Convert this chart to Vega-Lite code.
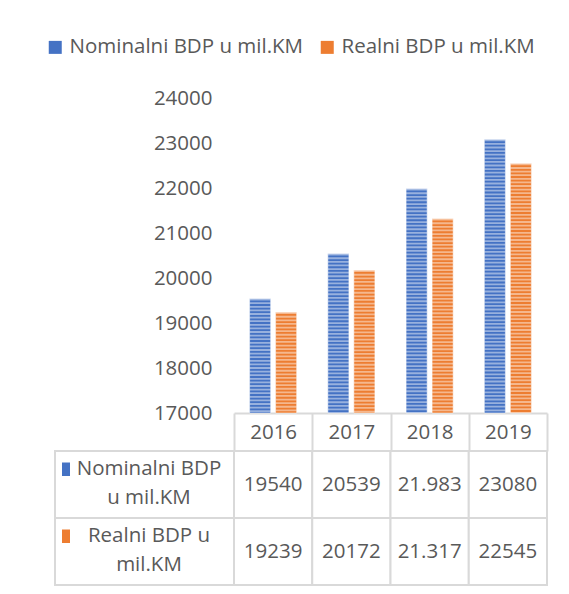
{
  "$schema": "https://vega.github.io/schema/vega-lite/v6.json",
  "padding": {"left": 45, "top": 37, "right": 20, "bottom": 9},
  "background": "white",
  "datasets": {
    "gdp": [
      {"year": "2016", "series": "Nominalni BDP u mil.KM", "value": 19540, "label": "19540"},
      {"year": "2017", "series": "Nominalni BDP u mil.KM", "value": 20539, "label": "20539"},
      {"year": "2018", "series": "Nominalni BDP u mil.KM", "value": 21983, "label": "21.983"},
      {"year": "2019", "series": "Nominalni BDP u mil.KM", "value": 23080, "label": "23080"},
      {"year": "2016", "series": "Realni BDP u mil.KM", "value": 19239, "label": "19239"},
      {"year": "2017", "series": "Realni BDP u mil.KM", "value": 20172, "label": "20172"},
      {"year": "2018", "series": "Realni BDP u mil.KM", "value": 21317, "label": "21.317"},
      {"year": "2019", "series": "Realni BDP u mil.KM", "value": 22545, "label": "22545"}
    ]
  },
  "config": {
    "font": "Open Sans",
    "view": {"stroke": null},
    "axis": {"labelFont": "Open Sans", "labelColor": "#595959", "labelFontSize": 20.5},
    "legend": {"labelFont": "Open Sans", "labelColor": "#595959", "labelFontSize": 20.5}
  },
  "columns": 2,
  "spacing": {"row": 38, "column": 0},
  "bounds": "flush",
  "concat": [
    {
      "width": 179,
      "height": 315,
      "data": {"values": []},
      "mark": "point"
    },
    {
      "width": 313,
      "height": 315,
      "data": {"name": "gdp"},
      "encoding": {
        "x": {
          "field": "year",
          "type": "nominal",
          "scale": {"paddingInner": 0, "paddingOuter": 0},
          "axis": {
            "title": null,
            "labelAngle": 0,
            "domain": true,
            "domainColor": "#D9D9D9",
            "domainWidth": 2,
            "ticks": true,
            "tickBand": "extent",
            "tickSize": 38,
            "tickColor": "#D9D9D9",
            "tickWidth": 2,
            "labelPadding": -19,
            "labelBaseline": "middle",
            "grid": false
          }
        },
        "xOffset": {
          "field": "series",
          "type": "nominal",
          "scale": {"paddingInner": 0.19, "paddingOuter": 0.6}
        },
        "y": {
          "field": "value",
          "type": "quantitative",
          "scale": {"domain": [17000, 24000], "nice": false, "zero": false},
          "axis": {
            "title": null,
            "domain": false,
            "ticks": false,
            "grid": false,
            "values": [17000, 18000, 19000, 20000, 21000, 22000, 23000, 24000],
            "format": "d",
            "labelPadding": 22
          }
        }
      },
      "layer": [
        {
          "mark": {"type": "bar", "stroke": "white", "strokeWidth": 1, "strokeOpacity": 0.5},
          "encoding": {
            "y2": {"datum": 17000},
            "color": {
              "field": "series",
              "type": "nominal",
              "scale": {"range": ["#4472C4", "#ED7D31"]},
              "legend": {
                "orient": "none",
                "direction": "horizontal",
                "legendX": -10,
                "legendY": -61,
                "title": null,
                "padding": 0,
                "symbolType": "square",
                "symbolSize": 169,
                "symbolStrokeWidth": 0,
                "labelOffset": 4,
                "columnPadding": 13,
                "labelLimit": 400
              }
            }
          }
        },
        {
          "mark": {"type": "rule", "strokeWidth": 21, "strokeDash": [1.8, 1.8], "strokeCap": "butt", "color": "white", "opacity": 0.45},
          "encoding": {"y2": {"datum": 17000}}
        }
      ]
    },
    {
      "width": 179,
      "height": 134,
      "data": {"name": "gdp"},
      "transform": [
        {"aggregate": [], "groupby": ["series"]},
        {"calculate": "datum.series == 'Nominalni BDP u mil.KM' ? ['Nominalni BDP', 'u mil.KM'] : ['Realni BDP u', 'mil.KM']", "as": "lines"}
      ],
      "encoding": {
        "y": {"field": "series", "type": "nominal", "scale": {"paddingInner": 0, "paddingOuter": 0}, "axis": null}
      },
      "layer": [
        {"mark": {"type": "rect", "fill": "white", "stroke": "#D9D9D9", "strokeWidth": 2}},
        {
          "mark": {"type": "text", "fontSize": 20.5, "color": "#595959", "lineHeight": 29, "dx": 4.5, "dy": -15.5},
          "encoding": {"text": {"field": "lines"}}
        },
        {
          "mark": {"type": "point", "shape": "M-82.5,-22h8v13.5h-8z", "size": 4, "filled": true, "opacity": 1},
          "encoding": {
            "fill": {"field": "series", "type": "nominal", "scale": {"range": ["#4472C4", "#ED7D31"]}, "legend": null}
          }
        }
      ]
    },
    {
      "width": 313,
      "height": 134,
      "data": {"name": "gdp"},
      "encoding": {
        "x": {"field": "year", "type": "nominal", "scale": {"paddingInner": 0, "paddingOuter": 0}, "axis": null},
        "y": {"field": "series", "type": "nominal", "scale": {"paddingInner": 0, "paddingOuter": 0}, "axis": null}
      },
      "layer": [
        {"mark": {"type": "rect", "fill": "white", "stroke": "#D9D9D9", "strokeWidth": 2}},
        {
          "mark": {"type": "text", "fontSize": 20.5, "color": "#595959"},
          "encoding": {"text": {"field": "label"}}
        }
      ]
    }
  ]
}
